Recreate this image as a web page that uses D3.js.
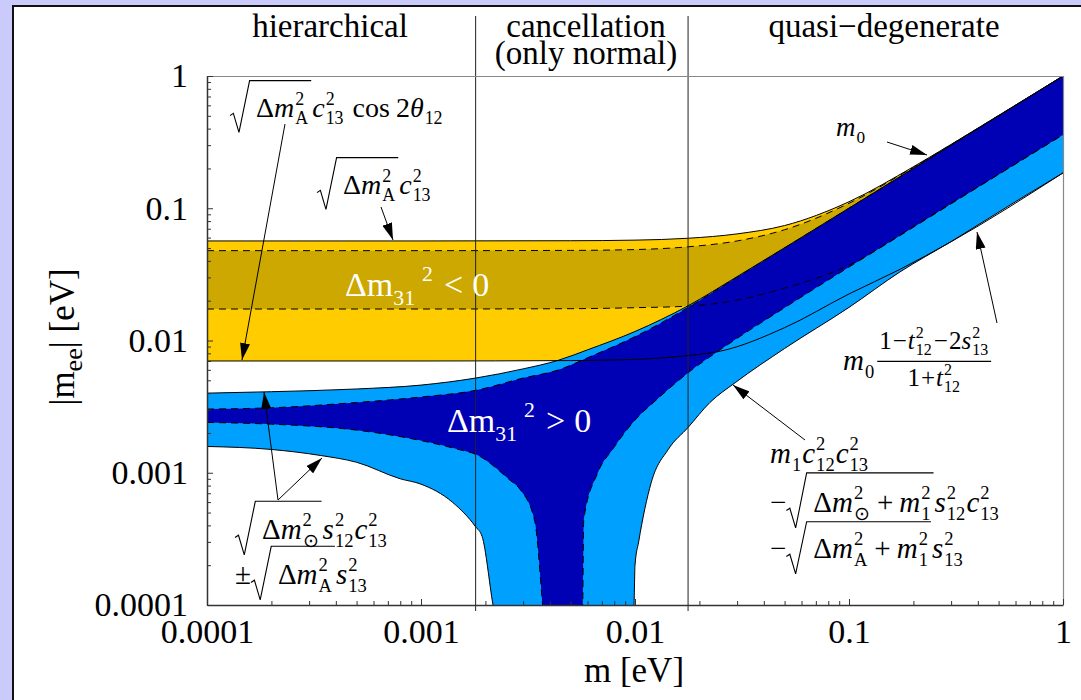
<!DOCTYPE html>
<html>
<head>
<meta charset="utf-8">
<script src="https://cdnjs.cloudflare.com/ajax/libs/d3/7.8.5/d3.min.js"></script>
<style>
  body { margin: 0; background: #cbcbfb; }
  svg { display: block; }
  text { font-family: "Liberation Serif", "Times New Roman", serif; }
</style>
</head>
<body>
<svg id="chart" width="1081" height="700"></svg>
<script>
// curves, points are [m (eV), |m_ee| (eV)]
// inverted ordering (yellow)
const invMax   = [[1e-4,0.0566],[1e-3,0.0566],[0.005,0.0568],[0.01,0.0574],[0.0177,0.0593],[0.03,0.064],[0.05,0.074],[0.1,0.112],[0.2,0.206],[0.3,0.304],[0.5,0.503],[1,1.0]];
const invBfMax = [[1e-4,0.0478],[1e-3,0.0478],[0.005,0.048],[0.01,0.0487],[0.0177,0.0511],[0.03,0.0566],[0.05,0.0688],[0.1,0.109],[0.2,0.204],[0.3,0.303],[0.5,0.502],[1,1.0]];
const invBfMin = [[1e-4,0.0173],[1e-3,0.0173],[0.005,0.0174],[0.01,0.0177],[0.0177,0.0182],[0.03,0.0202],[0.05,0.0249],[0.1,0.0371],[0.2,0.0727],[0.3,0.1094],[0.5,0.181],[1,0.36]];
const invMin   = [[1e-4,0.0070],[1e-3,0.0070],[0.005,0.00705],[0.01,0.0072],[0.0177,0.0077],[0.025,0.0083],[0.05,0.0125],[0.1,0.0225],[0.173,0.0345],[0.3,0.0558],[1,0.185]];
// normal ordering (blue)
const normMax   = [[1e-4,0.0040],[2e-4,0.0041],[5e-4,0.0043],[1e-3,0.0046],[0.0018,0.0052],[0.003,0.0061],[0.0044,0.0071],[0.006,0.0085],[0.01,0.0117],[0.0177,0.0183],[0.03,0.0304],[0.1,0.1003],[1,1.0]];
const normBfMax = [[1e-4,0.00303],[2e-4,0.0031],[5e-4,0.0034],[1e-3,0.00374],[0.0018,0.0042],[0.003,0.0052],[0.0044,0.006],[0.006,0.0074],[0.01,0.0107],[0.0177,0.0178],[0.03,0.0301],[0.1,0.1],[1,1.0]];
const normBfMinLow  = [[1e-4,0.0024],[2e-4,0.00233],[5e-4,0.0021],[1e-3,0.00175],[0.00152,0.00149],[0.0018,0.00138],[0.0026,0.00088],[0.0029,0.00075],[0.0034,0.00043],[0.0037,0.0001],[0.0038,0.00003]];
const normBfMinHigh = [[0.00566,0.00003],[0.0057,0.0001],[0.00576,0.00044],[0.0067,0.001],[0.0079,0.00152],[0.01,0.0025],[0.0127,0.0036],[0.0177,0.0057],[0.025,0.0085],[0.05,0.0177],[0.1,0.0359],[0.173,0.0621],[0.3,0.108],[1,0.36]];
const normMinLow  = [[1e-4,0.00158],[2e-4,0.0015],[3.4e-4,0.00135],[5e-4,0.0012],[8e-4,0.0009],[1e-3,0.00082],[0.0014,0.0006],[0.0018,0.00039],[0.00193,0.00033],[0.00217,0.0001],[0.0023,0.00003]];
const normMinHigh = [[0.0097,0.00003],[0.0099,0.0001],[0.01,0.0002],[0.0104,0.0003],[0.0119,0.00084],[0.0143,0.0015],[0.0177,0.0022],[0.0224,0.0034],[0.0294,0.0048],[0.05,0.0087],[0.1,0.0178],[0.173,0.033],[0.3,0.056],[0.61,0.114],[1,0.185]];

const decades = [1e-4, 1e-3, 1e-2, 1e-1, 1];
const tickLabels = ["0.0001", "0.001", "0.01", "0.1", "1"];
const regionEdges = [0.0018, 0.0177];
const regionNames = [["hierarchical"], ["cancellation", "(only normal)"], ["quasi\u2212degenerate"]];

const yellow = "#ffcc00", darkYellow = "#cca800", lightBlue = "#00a0ff", darkBlue = "#0000b4";

const W = 1081, H = 700;
const plot = {left: 207, right: 1063, top: 76, bottom: 605};

const svg = d3.select("#chart");
svg.append("rect").attr("width", W).attr("height", H).attr("fill", "#cbcbfb");
svg.append("rect").attr("x", 13).attr("y", 6).attr("width", W).attr("height", H)
  .attr("fill", "#fff").attr("stroke", "#111").attr("stroke-width", 2);

const x = d3.scaleLog().domain([1e-4, 1]).range([plot.left, plot.right]);
const y = d3.scaleLog().domain([1e-4, 1]).range([plot.bottom, plot.top]);
const yc = v => Math.min(y(v), plot.bottom + 30);

const defs = svg.append("defs");
defs.append("clipPath").attr("id", "clip").append("rect")
  .attr("x", plot.left).attr("y", plot.top)
  .attr("width", plot.right - plot.left).attr("height", plot.bottom - plot.top);
defs.append("marker").attr("id", "ah").attr("viewBox", "0 0 17 10")
  .attr("refX", 17).attr("refY", 5).attr("markerWidth", 17).attr("markerHeight", 10)
  .attr("markerUnits", "userSpaceOnUse").attr("orient", "auto")
  .append("path").attr("d", "M0,0 L17,5 L0,10 z").attr("fill", "#000");

const g = svg.append("g").attr("clip-path", "url(#clip)");

const areaDown = d3.area().x(d => x(d[0])).y0(plot.bottom + 30).y1(d => yc(d[1])).curve(d3.curveMonotoneX);
const line = d3.line().x(d => x(d[0])).y(d => yc(d[1])).curve(d3.curveMonotoneX);

function fillDown(data, color) {
  g.append("path").datum(data).attr("d", areaDown).attr("fill", color);
}
function stroke(data, dashed) {
  g.append("path").datum(data).attr("d", line).attr("fill", "none")
    .attr("stroke", "#000").attr("stroke-width", 1)
    .attr("stroke-dasharray", dashed ? "7,5" : null);
}

// inverted band
fillDown(invMax, yellow);
fillDown(invBfMax, darkYellow);
fillDown(invBfMin, yellow);
fillDown(invMin, "#fff");
// normal band on top
fillDown(normMax, lightBlue);
fillDown(normBfMax, darkBlue);
fillDown(normBfMinLow, lightBlue);
fillDown(normBfMinHigh, lightBlue);
fillDown(normMinLow, "#fff");
fillDown(normMinHigh, "#fff");

stroke(invMax, false);
stroke(invMin, false);
stroke(invBfMax, true);
stroke(invBfMin, true);
stroke(normMax, false);
stroke(normBfMax, true);
stroke(normBfMinLow, true);
stroke(normBfMinHigh, true);
stroke(normMinLow, false);
stroke(normMinHigh, false);

// region separators + headers
regionEdges.forEach(m => {
  svg.append("line").attr("x1", x(m)).attr("x2", x(m)).attr("y1", 16).attr("y2", 611)
    .attr("stroke", "#222").attr("stroke-width", 1);
});
const headerX = [330, 586, 884];
regionNames.forEach((lines, i) => {
  lines.forEach((s, j) => {
    svg.append("text").attr("x", headerX[i]).attr("y", 37 + j * 27)
      .attr("text-anchor", "middle").attr("font-size", 33).text(s);
  });
});

// frame
svg.append("path")
  .attr("d", `M${plot.left},${plot.top + 0.5}H${plot.right + 0.5}V${plot.bottom}`)
  .attr("fill", "none").attr("stroke", "#888").attr("stroke-width", 1.2);

// axes
const minors = [];
decades.slice(0, -1).forEach(d => { for (let k = 2; k < 10; k++) minors.push(d * k); });

function styleAxis(a) {
  a.attr("font-family", "Liberation Serif, serif").attr("font-size", 34);
  a.selectAll("text").attr("fill", "#000");
  a.selectAll("line").attr("stroke", "#333");
  a.select(".domain").attr("stroke", "#333").attr("stroke-width", 1.5);
}
const yAx = svg.append("g").attr("transform", `translate(${plot.left},0)`)
  .call(d3.axisLeft(y).tickValues(decades).tickFormat((d, i) => tickLabels[i])
    .tickSizeInner(-6).tickSizeOuter(0).tickPadding(19));
styleAxis(yAx);
svg.append("g").attr("transform", `translate(${plot.left},0)`)
  .call(d3.axisLeft(y).tickValues(minors).tickFormat("").tickSizeInner(-4).tickSizeOuter(0))
  .call(a => { a.select(".domain").remove(); a.selectAll("line").attr("stroke", "#333"); });

const xAx = svg.append("g").attr("transform", `translate(0,${plot.bottom})`)
  .call(d3.axisBottom(x).tickValues(decades).tickFormat((d, i) => tickLabels[i])
    .tickSizeInner(-6).tickSizeOuter(0).tickPadding(14));
styleAxis(xAx);
svg.append("g").attr("transform", `translate(0,${plot.bottom})`)
  .call(d3.axisBottom(x).tickValues(minors).tickFormat("").tickSizeInner(-4).tickSizeOuter(0))
  .call(a => { a.select(".domain").remove(); a.selectAll("line").attr("stroke", "#333"); });

// axis titles
svg.append("text").attr("x", 634).attr("y", 682).attr("text-anchor", "middle")
  .attr("font-size", 35).text("m [eV]");
const yt = svg.append("text").attr("transform", "translate(74,337) rotate(-90)")
  .attr("text-anchor", "middle").attr("font-size", 35);
yt.append("tspan").text("|m");
yt.append("tspan").attr("dy", 8).attr("font-size", 26).text("ee");
yt.append("tspan").attr("dy", -8).text("| [eV]");

// --- tiny math layout for the formula labels ---
function put(p, x0, y0, s, fs, it, fill) {
  const t = p.append("text").attr("x", x0).attr("y", y0).attr("font-size", fs).text(s);
  if (it) t.attr("font-style", "italic");
  if (fill) t.attr("fill", fill);
  return t.node().getComputedTextLength();
}
function mrow(p, x0, y0, items, fs, fill) {
  let cx = x0;
  items.forEach(it => {
    if (typeof it === "string") cx += put(p, cx, y0, it, fs, false, fill);
    else if (it.i) cx += put(p, cx, y0, it.i, fs, true, fill) + 1;
    else if (it.sp) cx += it.sp;
    else if (it.sqrt) {
      const x1 = cx + fs * 0.93;
      const end = mrow(p, x1, y0, it.sqrt, fs, fill);
      const top = y0 - fs * (it.h || 1.3);
      p.append("path")
        .attr("d", `M${cx},${y0 - fs * 0.05} L${cx + fs * 0.12},${y0 - fs * 0.13} L${cx + fs * 0.32},${y0 + fs * 0.55} L${cx + fs * 0.7},${top} H${end + 2}`)
        .attr("fill", "none").attr("stroke", fill || "#000").attr("stroke-width", 1.1);
      cx = end + 3;
    } else if (it.frac) {
      const fs2 = it.fs || fs * 0.78;
      const gn = p.append("g"), gd = p.append("g");
      const wn = mrow(gn, 0, 0, it.frac[0], fs2, fill);
      const wd = mrow(gd, 0, 0, it.frac[1], fs2, fill);
      const w = Math.max(wn, wd) + 4;
      const bar = y0 - fs * 0.3;
      gn.attr("transform", `translate(${cx + (w - wn) / 2},${bar - fs2 * 0.5})`);
      gd.attr("transform", `translate(${cx + (w - wd) / 2},${bar + fs2 * 0.98})`);
      p.append("line").attr("x1", cx).attr("x2", cx + w).attr("y1", bar).attr("y2", bar)
        .attr("stroke", fill || "#000").attr("stroke-width", 1.2);
      cx += w;
    } else {
      const s = fs * 0.64;
      const a = it.sup ? put(p, cx, y0 - fs * 0.44, it.sup, s, false, fill) : 0;
      const b = it.sub ? put(p, cx, y0 + fs * 0.26, it.sub, s, false, fill) : 0;
      cx += Math.max(a, b) + 1;
    }
  });
  return cx;
}

const lab = svg.append("g");
const dmA = ["\u0394", {i: "m"}, {sup: "2", sub: "A"}];
const dmS = ["\u0394", {i: "m"}, {sup: "2", sub: "\u2299"}];
const plus = [{sp: 6}, "+", {sp: 6}];

mrow(lab, 230, 117, [{sqrt: dmA}, {i: "c"}, {sup: "2", sub: "13"}, {sp: 8}, "cos", {sp: 6}, "2", {i: "\u03b8"}, {sub: "12"}], 28);
mrow(lab, 317, 194, [{sqrt: dmA}, {i: "c"}, {sup: "2", sub: "13"}], 28);
mrow(lab, 345, 296, ["\u0394m", {sub: "31"}, {sp: 6}, {sup: "2"}, {sp: 10}, "<", {sp: 9}, "0"], 34, "#fff");
mrow(lab, 447, 432, ["\u0394m", {sub: "31"}, {sp: 6}, {sup: "2"}, {sp: 10}, ">", {sp: 9}, "0"], 34, "#fff");
mrow(lab, 836, 136, [{i: "m"}, {sub: "0"}], 27);
mrow(lab, 843, 370, [{i: "m"}, {sub: "0"}, {sp: 2},
  {frac: [["1", {sp: 1}, "\u2212", {sp: 1}, {i: "t"}, {sup: "2", sub: "12"}, {sp: 1}, "\u2212", {sp: 1}, "2", {i: "s"}, {sup: "2", sub: "13"}],
          ["1", {sp: 1}, "+", {sp: 1}, {i: "t"}, {sup: "2", sub: "12"}]], fs: 25}], 29);
mrow(lab, 770, 463, [{i: "m"}, {sub: "1"}, {i: "c"}, {sup: "2", sub: "12"}, {i: "c"}, {sup: "2", sub: "13"}], 29);
mrow(lab, 770, 512, ["\u2212", {sqrt: dmS.concat(plus, [{i: "m"}, {sup: "2", sub: "1"}]), h: 1.35}, {i: "s"}, {sup: "2", sub: "12"}, {i: "c"}, {sup: "2", sub: "13"}], 29);
mrow(lab, 770, 558, ["\u2212", {sqrt: dmA.concat(plus, [{i: "m"}, {sup: "2", sub: "1"}]), h: 1.25}, {i: "s"}, {sup: "2", sub: "13"}], 29);
mrow(lab, 235, 539, [{sqrt: dmS, h: 1.3}, {i: "s"}, {sup: "2", sub: "12"}, {i: "c"}, {sup: "2", sub: "13"}], 29);
mrow(lab, 235, 584, ["\u00b1", {sqrt: dmA, h: 1.3}, {i: "s"}, {sup: "2", sub: "13"}], 29);

// arrows (pixel positions of the annotations)
const arrows = [
  [285, 124, 242, 360],
  [381, 207, 393, 240],
  [887, 142, 927, 155],
  [997, 323, 977, 232],
  [805, 440, 733, 385],
  [278, 500, 264, 392],
  [278, 500, 322, 458]
];
arrows.forEach(a => {
  svg.append("line").attr("x1", a[0]).attr("y1", a[1]).attr("x2", a[2]).attr("y2", a[3])
    .attr("stroke", "#000").attr("stroke-width", 1).attr("marker-end", "url(#ah)");
});
</script>
</body>
</html>
